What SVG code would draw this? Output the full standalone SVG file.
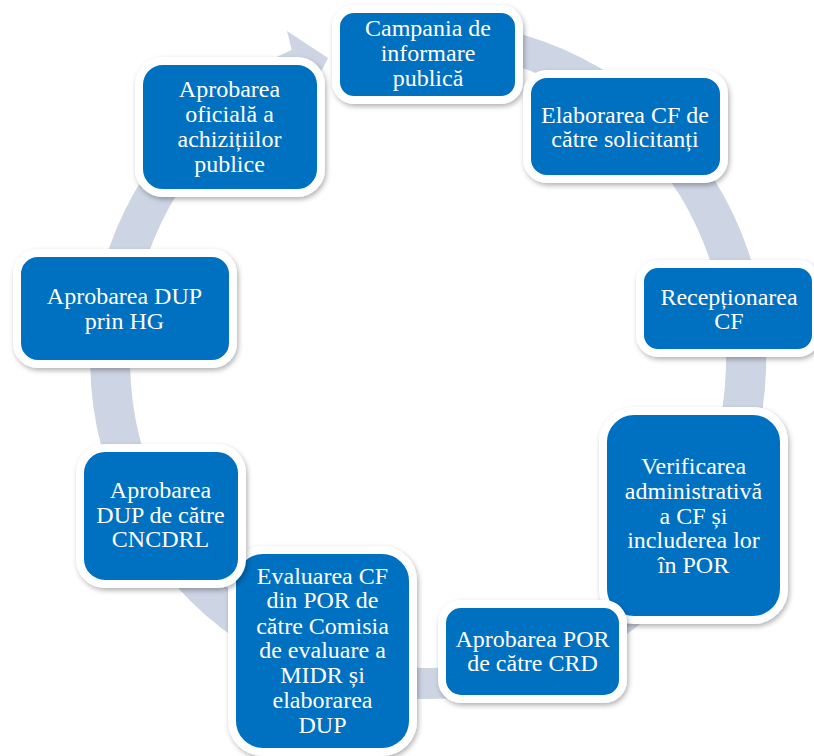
<svg xmlns="http://www.w3.org/2000/svg" width="814" height="756" viewBox="0 0 814 756">
<defs>
<filter id="sh" x="-10%" y="-10%" width="125%" height="125%">
<feDropShadow dx="1.5" dy="2.5" stdDeviation="2.5" flood-color="#000" flood-opacity="0.3"/>
</filter>
</defs>
<style>
.box{fill:#0070C0;stroke:#FFFFFF;stroke-width:8;filter:url(#sh)}
.ring{fill:#CDD4E4;stroke:none}
text{font-family:"Liberation Serif","Times New Roman",serif;font-size:24px;fill:#FFFFFF;text-anchor:middle}
</style>
<rect width="814" height="756" fill="#FFFFFF"/>
<g id="connectors">
<path class="ring" d="M486.7,26.1 A338,339 0 1 1 295.9,48 L311.6,76.5 A298,308 0 1 0 479.7,56.7 Z"/>
<polygon class="ring" points="287,31 328,58 305,103 292,51"/>
</g>
<g id="n1"><rect class="box" x="336" y="9" width="183" height="91" rx="18"/>
<text x="428" y="36">Campania de</text><text x="428" y="61">informare</text><text x="428" y="86">publică</text></g>
<g id="n2"><rect class="box" x="527" y="74" width="197" height="105" rx="20"/>
<text x="625" y="123">Elaborarea CF de</text><text x="625" y="147">către solicitanți</text></g>
<g id="n3"><rect class="box" x="640" y="264" width="176" height="89" rx="18"/>
<text x="729" y="305">Recepționarea</text><text x="729" y="329">CF</text></g>
<g id="n4"><rect class="box" x="603" y="411" width="181" height="209" rx="31"/>
<text x="693.5" y="474">Verificarea</text><text x="693.5" y="499">administrativă</text><text x="693.5" y="524">a CF și</text><text x="693.5" y="548">includerea lor</text><text x="693.5" y="573">în POR</text></g>
<g id="n5"><rect class="box" x="442" y="604" width="181" height="95" rx="19"/>
<text x="532.5" y="647">Aprobarea POR</text><text x="532.5" y="671">de către CRD</text></g>
<g id="n6"><rect class="box" x="232" y="550" width="181" height="202" rx="31"/>
<text x="322.5" y="584">Evaluarea CF</text><text x="322.5" y="608">din POR de</text><text x="322.5" y="634">către Comisia</text><text x="322.5" y="658">de evaluare a</text><text x="322.5" y="683">MIDR și</text><text x="322.5" y="708">elaborarea</text><text x="322.5" y="733">DUP</text></g>
<g id="n7"><rect class="box" x="80" y="448" width="162" height="136" rx="25"/>
<text x="160.5" y="498">Aprobarea</text><text x="160.5" y="523">DUP de către</text><text x="160.5" y="547">CNCDRL</text></g>
<g id="n8"><rect class="box" x="17" y="253" width="216" height="111" rx="21"/>
<text x="124.5" y="304">Aprobarea DUP</text><text x="124.5" y="329">prin HG</text></g>
<g id="n9"><rect class="box" x="139" y="61" width="182" height="132" rx="24"/>
<text x="229.5" y="97">Aprobarea</text><text x="229.5" y="122">oficială a</text><text x="229.5" y="147">achizițiilor</text><text x="229.5" y="172">publice</text></g>
</svg>
